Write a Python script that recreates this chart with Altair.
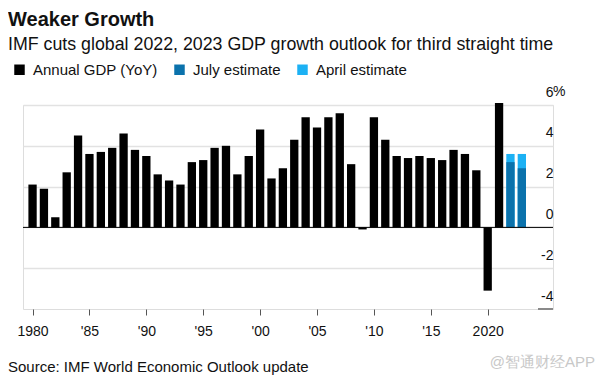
import altair as alt
import pandas as pd

years = list(range(1980, 2022))
annual_gdp = [2.1, 1.9, 0.5, 2.7, 4.5, 3.6, 3.7, 3.9, 4.6, 3.8,
              3.5, 2.6, 2.3, 2.1, 3.2, 3.3, 3.9, 4.0, 2.6, 3.5,
              4.8, 2.4, 2.9, 4.3, 5.4, 4.9, 5.4, 5.6, 3.1, -0.1,
              5.4, 4.3, 3.5, 3.4, 3.5, 3.4, 3.3, 3.8, 3.6, 2.8,
              -3.1, 6.1]
est_years = [2022, 2023]
april_est = [3.6, 3.6]
july_est = [3.2, 2.9]

series_names = ["Annual GDP (YoY)", "July estimate", "April estimate"]
series_colors = ["#000000", "#0b72ac", "#1cb1f4"]

rows = []
for y, v in zip(years, annual_gdp):
    rows.append({"year": y, "value": v, "series": series_names[0]})
for y, v in zip(est_years, april_est):
    rows.append({"year": y, "value": v, "series": series_names[2]})
for y, v in zip(est_years, july_est):
    rows.append({"year": y, "value": v, "series": series_names[1]})
df = pd.DataFrame(rows)

FONT = "Liberation Sans"
W, H = 530, 204

xscale = alt.Scale(domain=[1979.6, 2025.3], nice=False, zero=False)
yscale = alt.Scale(domain=[-4, 6], nice=False)

bars = alt.Chart(df).mark_bar(size=8.3).encode(
    x=alt.X("year:Q", scale=xscale, title=None,
            axis=alt.Axis(values=list(range(1980, 2021, 5)), format="d",
                          labelExpr="(datum.value == 1980 || datum.value == 2020) ? datum.label : \"'\" + slice(datum.label, 2)",
                          domain=False, grid=False, ticks=True, tickSize=6,
                          tickColor="#555555", tickWidth=1, labelPadding=9,
                          labelFontSize=14, labelColor="#111111", labelFont=FONT)),
    y=alt.Y("value:Q", scale=yscale, title=None, stack=None,
            axis=alt.Axis(orient="right", values=[-4, -2, 0, 2, 4, 6],
                          labelExpr="datum.value == -4 ? '-4' : datum.value == -2 ? '-2' : datum.label",
                          domain=False, ticks=False, tickSize=0, labelPadding=0,
                          labelAlign="right", labelBaseline="alphabetic", labelOffset=-9,
                          labelFontSize=14, labelColor="#111111", labelFont=FONT,
                          grid=True,
                          gridColor={"condition": {"test": "datum.value === -4", "value": "transparent"}, "value": "#e2e2e2"},
                          gridWidth=1.5)),
    color=alt.Color("series:N", scale=alt.Scale(domain=series_names, range=series_colors),
                    legend=alt.Legend(title=None, orient="none", legendX=-11, legendY=-43,
                                      direction="horizontal", symbolType="square",
                                      symbolSize=110, symbolStrokeWidth=0, symbolOpacity=1,
                                      labelFontSize=15, labelFont=FONT, labelColor="#111111",
                                      columnPadding=14, labelOffset=6)),
)

zero = alt.Chart(pd.DataFrame({"v": [0]})).mark_rule(color="#000000", strokeWidth=1).encode(
    y=alt.Y("v:Q", scale=yscale))

dash = alt.Chart(pd.DataFrame({"v": [-4]})).mark_rule(color="#8a8a8a", strokeWidth=2).encode(
    y=alt.Y("v:Q", scale=yscale), x=alt.value(515), x2=alt.value(530))

pct = alt.Chart(pd.DataFrame({"t": ["%"], "v": [6]})).mark_text(
    align="left", baseline="alphabetic", dy=-9, fontSize=14, font=FONT, color="#111111").encode(
    x=alt.value(W), y=alt.Y("v:Q", scale=yscale), text="t:N")

def label(text, x, y, size, weight="normal", color="#111111", align="left"):
    return alt.Chart(pd.DataFrame({"t": [text]})).mark_text(
        align=align, baseline="middle", fontSize=size, fontWeight=weight,
        font=FONT, color=color).encode(x=alt.value(x), y=alt.value(y), text="t:N")

title = label("Weaker Growth", -15, -85, 20, weight="bold")
subtitle = label("IMF cuts global 2022, 2023 GDP growth outlook for third straight time", -15, -60, 17.8)
source = label("Source: IMF World Economic Outlook update", -15, 262, 15)
wm = label("@智通财经APP", 572, 257, 15, color="#c8c8c8", align="right")

chart = alt.layer(bars, zero, dash, pct, title, subtitle, source, wm).properties(
    width=W, height=H,
    autosize=alt.AutoSizeParams(type="none"),
    padding={"left": 15, "top": 97, "right": 47, "bottom": 67},
).configure_view(stroke=None).configure(font=FONT)

chart.save("out.html", embed_options={"renderer": "svg", "actions": False})
